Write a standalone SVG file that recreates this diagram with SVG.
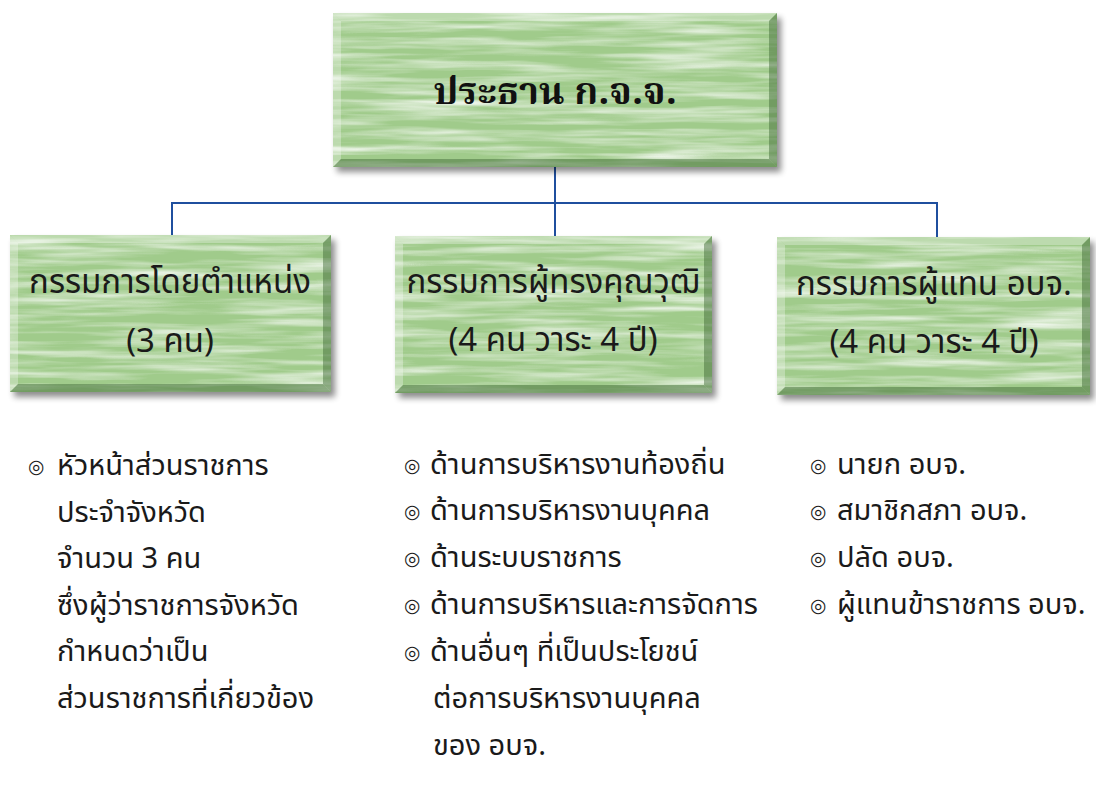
<svg xmlns="http://www.w3.org/2000/svg" width="1096" height="803" viewBox="0 0 1096 803">
<defs>
<style>
.box{fill:#a0cb8b;}
.title{font-family:"Noto Serif Thai","Noto Sans Thai","Liberation Serif",serif;font-weight:bold;font-size:38px;fill:#111;text-anchor:middle;}
.sub{font-family:"Noto Sans Thai","Noto Sans","Liberation Sans",sans-serif;font-size:33px;fill:#1a1a1a;text-anchor:middle;}
.li{font-family:"Noto Sans Thai","Noto Sans","Liberation Sans",sans-serif;font-size:29px;fill:#1a1a1a;}
.bul{font-family:"DejaVu Sans",sans-serif;font-size:19px;fill:#1a1a1a;}
.conn{stroke:#1f4f9e;stroke-width:2;fill:none;}
.hl{fill:#ffffff;opacity:0.3;}
.dk{fill:#3a6330;opacity:0.45;}
</style>
<filter id="shadow" x="-5%" y="-5%" width="112%" height="120%">
<feGaussianBlur in="SourceAlpha" stdDeviation="3"/>
<feOffset dx="4" dy="5" result="b"/>
<feComponentTransfer><feFuncA type="linear" slope="0.45"/></feComponentTransfer>
<feMerge><feMergeNode/><feMergeNode in="SourceGraphic"/></feMerge>
</filter>
<filter id="streaks" x="0" y="0" width="100%" height="100%">
<feTurbulence type="fractalNoise" baseFrequency="0.008 0.13" numOctaves="3" seed="7"/>
<feColorMatrix type="matrix" values="0 0 0 0 1  0 0 0 0 1  0 0 0 0 1  1.6 0 0 0 -0.62"/>
<feComposite in2="SourceGraphic" operator="in"/>
</filter>
</defs>

<g id="connectors">
<line class="conn" x1="555" y1="167" x2="555" y2="203"/>
<line class="conn" x1="172" y1="203" x2="937" y2="203"/>
<line class="conn" x1="172" y1="202" x2="172" y2="236"/>
<line class="conn" x1="555" y1="203" x2="555" y2="236"/>
<line class="conn" x1="937" y1="202" x2="937" y2="237"/>
</g>

<g id="node-chair">
<rect class="box" x="333" y="13" width="444" height="154" filter="url(#shadow)"/>
<rect x="333" y="13" width="444" height="154" fill="#fff" filter="url(#streaks)"/>
<polygon class="hl" points="333,13 777,13 769,21 341,21"/>
<polygon class="hl" points="333,13 341,21 341,159 333,167"/>
<polygon class="dk" points="777,13 777,167 769,159 769,21"/>
<polygon class="dk" points="333,167 777,167 769,159 341,159"/>
<text class="title" x="555" y="104">ประธาน ก.จ.จ.</text>
</g>

<g id="node-exofficio">
<rect class="box" x="10" y="235" width="321" height="157" filter="url(#shadow)"/>
<rect x="10" y="235" width="321" height="157" fill="#fff" filter="url(#streaks)"/>
<polygon class="hl" points="10,235 331,235 323,243 18,243"/>
<polygon class="hl" points="10,235 18,243 18,384 10,392"/>
<polygon class="dk" points="331,235 331,392 323,384 323,243"/>
<polygon class="dk" points="10,392 331,392 323,384 18,384"/>
<text class="sub" x="170" y="293">กรรมการโดยตำแหน่ง</text>
<text class="sub" x="170" y="352">(3 คน)</text>
</g>

<g id="node-expert">
<rect class="box" x="395" y="236" width="317" height="157" filter="url(#shadow)"/>
<rect x="395" y="236" width="317" height="157" fill="#fff" filter="url(#streaks)"/>
<polygon class="hl" points="395,236 712,236 704,244 403,244"/>
<polygon class="hl" points="395,236 403,244 403,385 395,393"/>
<polygon class="dk" points="712,236 712,393 704,385 704,244"/>
<polygon class="dk" points="395,393 712,393 704,385 403,385"/>
<text class="sub" x="553" y="293">กรรมการผู้ทรงคุณวุฒิ</text>
<text class="sub" x="553" y="351">(4 คน วาระ 4 ปี)</text>
</g>

<g id="node-representative">
<rect class="box" x="777" y="237" width="313" height="158" filter="url(#shadow)"/>
<rect x="777" y="237" width="313" height="158" fill="#fff" filter="url(#streaks)"/>
<polygon class="hl" points="777,237 1090,237 1082,245 785,245"/>
<polygon class="hl" points="777,237 785,245 785,387 777,395"/>
<polygon class="dk" points="1090,237 1090,395 1082,387 1082,245"/>
<polygon class="dk" points="777,395 1090,395 1082,387 785,387"/>
<text class="sub" x="934" y="295">กรรมการผู้แทน อบจ.</text>
<text class="sub" x="934" y="353">(4 คน วาระ 4 ปี)</text>
</g>

<g id="list-exofficio">
<text class="bul" x="28" y="473">◎</text>
<text class="li" x="57" y="475">หัวหน้าส่วนราชการ</text>
<text class="li" x="57" y="522">ประจำจังหวัด</text>
<text class="li" x="57" y="568">จำนวน 3 คน</text>
<text class="li" x="57" y="615">ซึ่งผู้ว่าราชการจังหวัด</text>
<text class="li" x="57" y="661">กำหนดว่าเป็น</text>
<text class="li" x="57" y="708">ส่วนราชการที่เกี่ยวข้อง</text>
</g>

<g id="list-expert">
<text class="bul" x="404" y="472">◎</text>
<text class="li" x="430" y="474">ด้านการบริหารงานท้องถิ่น</text>
<text class="bul" x="404" y="518">◎</text>
<text class="li" x="430" y="520">ด้านการบริหารงานบุคคล</text>
<text class="bul" x="404" y="565">◎</text>
<text class="li" x="430" y="567">ด้านระบบราชการ</text>
<text class="bul" x="404" y="612">◎</text>
<text class="li" x="430" y="614">ด้านการบริหารและการจัดการ</text>
<text class="bul" x="404" y="659">◎</text>
<text class="li" x="430" y="661">ด้านอื่นๆ ที่เป็นประโยชน์</text>
<text class="li" x="433" y="708">ต่อการบริหารงานบุคคล</text>
<text class="li" x="433" y="755">ของ อบจ.</text>
</g>

<g id="list-representative">
<text class="bul" x="810" y="472">◎</text>
<text class="li" x="837" y="474">นายก อบจ.</text>
<text class="bul" x="810" y="518">◎</text>
<text class="li" x="837" y="520">สมาชิกสภา อบจ.</text>
<text class="bul" x="810" y="565">◎</text>
<text class="li" x="837" y="567">ปลัด อบจ.</text>
<text class="bul" x="810" y="612">◎</text>
<text class="li" x="837" y="614">ผู้แทนข้าราชการ อบจ.</text>
</g>
</svg>
